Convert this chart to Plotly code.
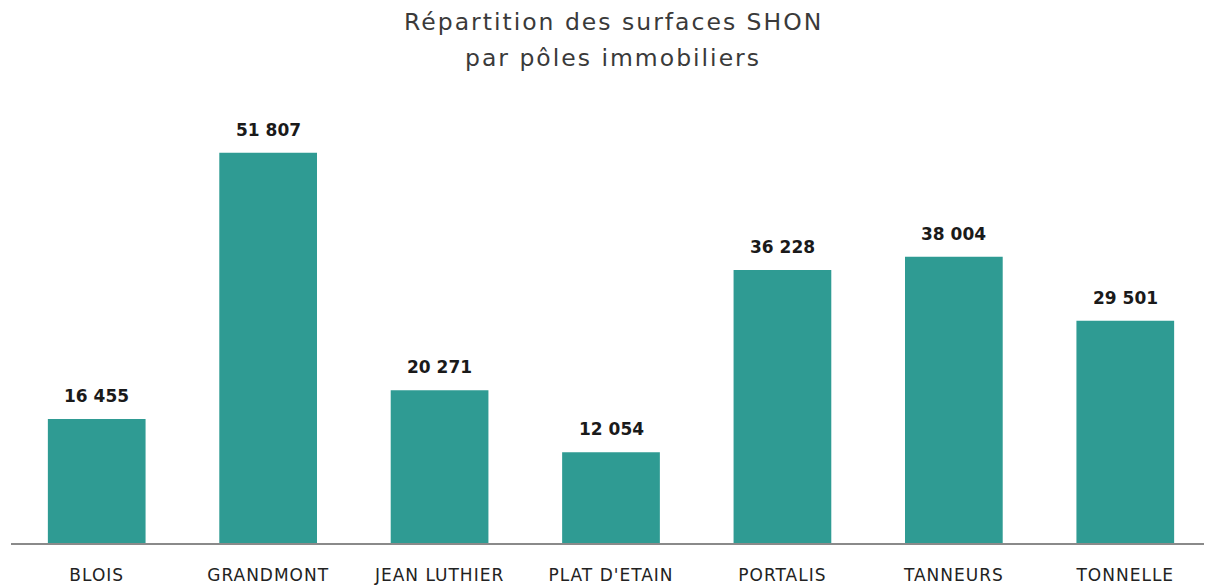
import plotly.graph_objects as go

categories = ["BLOIS", "GRANDMONT", "JEAN LUTHIER", "PLAT D'ETAIN", "PORTALIS", "TANNEURS", "TONNELLE"]
surfaces = [16455, 51807, 20271, 12054, 36228, 38004, 29501]
title_lines = ["Répartition des surfaces SHON", "par pôles immobiliers"]

bar_color = "#2f9b93"


def fmt(v):
    return f"{v:,}".replace(",", " ")


def spaced(s, px):
    return f'<span style="letter-spacing:{px}px">{s}</span>'


fig = go.Figure(go.Bar(
    x=categories,
    y=surfaces,
    marker=dict(color=bar_color, line=dict(width=0)),
    hoverinfo="skip",
))

for c, v in zip(categories, surfaces):
    fig.add_annotation(
        x=c, y=v, xref="x", yref="y",
        text=fmt(v), showarrow=False,
        yanchor="bottom", yshift=11,
        font=dict(family="DejaVu Sans", size=17, color="#1a1a1a", weight="bold"),
    )

for txt, yp in zip(title_lines, [1.176, 1.095]):
    fig.add_annotation(
        x=0.502, y=yp, xref="paper", yref="paper",
        text=spaced(txt, 2), showarrow=False,
        xanchor="center", yanchor="middle",
        font=dict(family="DejaVu Sans", size=23.5, color="#3a3a3a"),
    )

fig.update_layout(
    width=1204, height=577,
    paper_bgcolor="white",
    plot_bgcolor="white",
    margin=dict(l=3, r=1, t=92, b=42),
    bargap=0.43,
    showlegend=False,
    xaxis=dict(
        showgrid=False,
        showline=True, linecolor="#8a8a8a", linewidth=2,
        ticks="",
        tickmode="array",
        tickvals=categories,
        ticktext=[spaced(c, 1) for c in categories],
        ticklabelstandoff=16,
        tickfont=dict(family="DejaVu Sans", size=17, color="#222222"),
        automargin=False,
    ),
    yaxis=dict(
        visible=False,
        range=[0, 58800],
        showgrid=False,
        zeroline=False,
    ),
)

fig.write_html("out.html")
